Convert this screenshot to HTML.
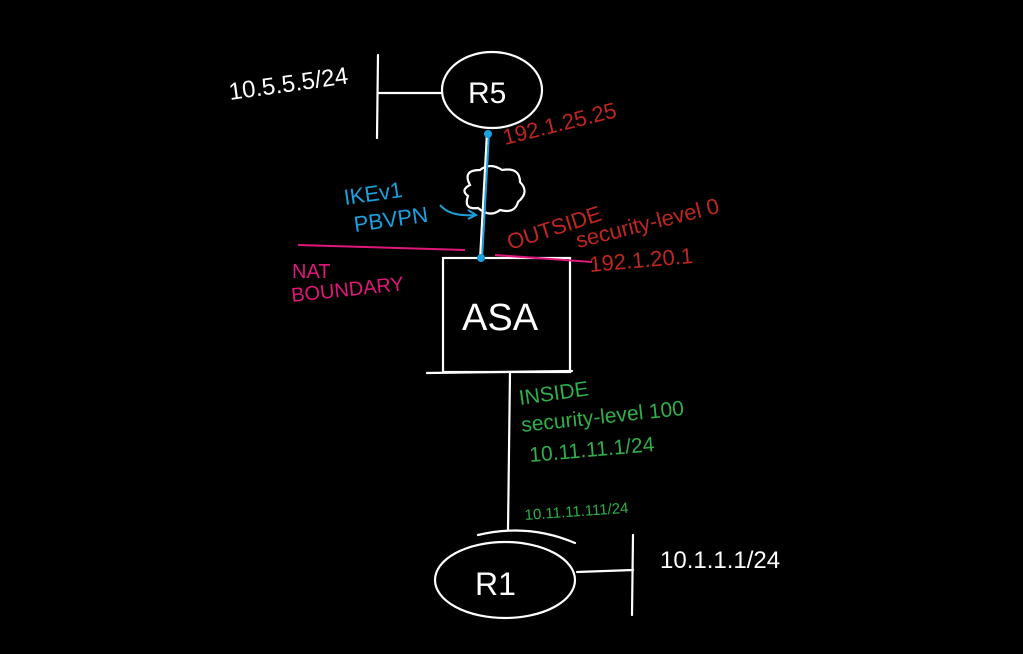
<!DOCTYPE html>
<html><head><meta charset="utf-8"><style>
html,body{margin:0;padding:0;background:#000;}
svg{display:block;}
text{font-family:"Liberation Sans",sans-serif;}
</style></head><body>
<svg width="1023" height="654" viewBox="0 0 1023 654" xmlns="http://www.w3.org/2000/svg">
<rect width="1023" height="654" fill="#000"/>
<g fill="none" stroke="#fff" stroke-width="2.2" stroke-linecap="round">
  <ellipse cx="492" cy="90" rx="50" ry="38"/>
  <line x1="378" y1="93" x2="442" y2="93"/>
  <line x1="378" y1="55" x2="377" y2="138"/>
  <path d="M470 185 q-8 -15 10 -15 q10 -8 22 0 q18 -3 18 12 q10 10 -2 20 q-3 12 -18 8 q-10 8 -22 -2 q-15 2 -10 -12 q-8 -6 2 -11z"/>
  <rect x="443" y="258" width="127" height="114"/>
  <line x1="427" y1="373" x2="572" y2="371"/>
  <line x1="510" y1="372" x2="508" y2="530"/>
  <ellipse cx="505" cy="580" rx="70" ry="38"/>
  <path d="M478 535 q50 -12 97 8"/>
  <line x1="577" y1="572" x2="633" y2="570"/>
  <line x1="633" y1="535" x2="632" y2="615"/>
  <line x1="487" y1="133" x2="480" y2="260"/>
</g>
<line x1="489" y1="133" x2="482" y2="260" stroke="#1aa0dc" stroke-width="2"/>
<circle cx="488" cy="134" r="4" fill="#1aa0dc"/>
<circle cx="481" cy="258" r="4" fill="#1aa0dc"/>
<path d="M440 205 q10 12 35 10 M468 210 l8 5 l-8 4" fill="none" stroke="#1aa0dc" stroke-width="2"/>
<g stroke="#e0177a" stroke-width="2" fill="none">
  <line x1="298" y1="245" x2="465" y2="250"/>
  <line x1="495" y1="255" x2="592" y2="262"/>
</g>
<g fill="#fff" font-size="26">
  <text x="230" y="100" transform="rotate(-8 230 100)" font-size="24">10.5.5.5/24</text>
  <text x="468" y="103" font-size="30">R5</text>
  <text x="462" y="330" font-size="38">ASA</text>
  <text x="475" y="595" font-size="32">R1</text>
  <text x="660" y="568" font-size="24">10.1.1.1/24</text>
</g>
<g fill="#c0261e" font-size="22">
  <text x="505" y="145" transform="rotate(-14 505 145)">192.1.25.25</text>
  <text x="510" y="250" transform="rotate(-18 510 250)">OUTSIDE</text>
  <text x="578" y="248" transform="rotate(-14 578 248)">security-level 0</text>
  <text x="590" y="272" transform="rotate(-5 590 272)">192.1.20.1</text>
</g>
<g fill="#1aa0dc" font-size="22">
  <text x="345" y="205" transform="rotate(-8 345 205)">IKEv1</text>
  <text x="355" y="232" transform="rotate(-8 355 232)">PBVPN</text>
</g>
<g fill="#e0177a" font-size="20">
  <text x="292" y="278">NAT</text>
  <text x="292" y="302" transform="rotate(-6 292 302)">BOUNDARY</text>
</g>
<g fill="#2fae4a" font-size="21">
  <text x="520" y="405" transform="rotate(-8 520 405)">INSIDE</text>
  <text x="522" y="432" transform="rotate(-6 522 432)">security-level 100</text>
  <text x="530" y="462" transform="rotate(-5 530 462)">10.11.11.1/24</text>
  <text x="525" y="520" font-size="15" transform="rotate(-4 525 520)">10.11.11.111/24</text>
</g>
</svg>
</body></html>
